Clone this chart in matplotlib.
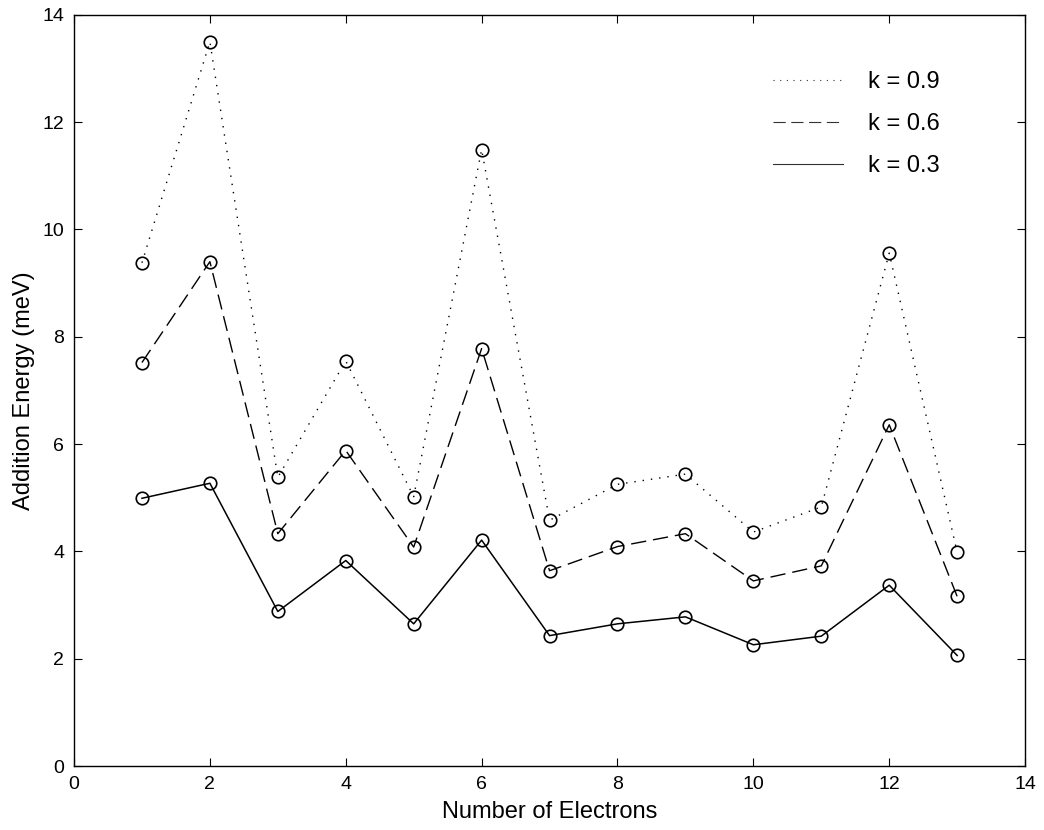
import matplotlib.pyplot as plt

plt.rcParams['font.family'] = ['Liberation Sans', 'DejaVu Sans']

electrons = [1, 2, 3, 4, 5, 6, 7, 8, 9, 10, 11, 12, 13]
k09 = [9.38, 13.50, 5.38, 7.55, 5.02, 11.49, 4.58, 5.25, 5.44, 4.36, 4.83, 9.56, 3.98]
k06 = [7.52, 9.40, 4.33, 5.88, 4.08, 7.78, 3.64, 4.09, 4.33, 3.45, 3.73, 6.36, 3.16]
k03 = [4.99, 5.27, 2.88, 3.83, 2.65, 4.21, 2.43, 2.65, 2.78, 2.26, 2.42, 3.37, 2.06]

fig = plt.figure(figsize=(10.44, 8.3), dpi=100)
ax = fig.add_axes([0.0709, 0.0771, 0.911, 0.905])

mk = dict(marker='o', markersize=9, markerfacecolor='none',
          markeredgecolor='black', markeredgewidth=1.2)

# lines for the legend (no markers), markers drawn separately
l1, = ax.plot(electrons, k09, color='black', lw=1.0, linestyle=(0, (1, 5)), label='k = 0.9')
l2, = ax.plot(electrons, k06, color='black', lw=1.0, linestyle=(0, (11, 5)), label='k = 0.6')
l3, = ax.plot(electrons, k03, color='black', lw=1.1, linestyle='-', label='k = 0.3')
for s in (k09, k06, k03):
    ax.plot(electrons, s, linestyle='none', **mk)

ax.set_xlim(0, 14)
ax.set_ylim(0, 14)
ax.set_xticks(range(0, 15, 2))
ax.set_yticks(range(0, 15, 2))
ax.tick_params(direction='in', length=6, width=0.8, top=True, right=True,
               labelsize=14, pad=7)
for sp in ax.spines.values():
    sp.set_linewidth(1.0)

ax.set_xlabel('Number of Electrons', fontsize=17, labelpad=6)
ax.set_ylabel('Addition Energy (meV)', fontsize=17, labelpad=5)

leg = ax.legend(handles=[l1, l2, l3], loc='upper left', bbox_to_anchor=(0.735, 0.925),
                frameon=False, fontsize=17, handlelength=2.95, handletextpad=1.05,
                labelspacing=0.85, borderpad=0, borderaxespad=0)
for h in leg.get_lines():
    h.set_linewidth(0.8)
    h.set_color('#333333')

fig.savefig('out.png', dpi=100)
